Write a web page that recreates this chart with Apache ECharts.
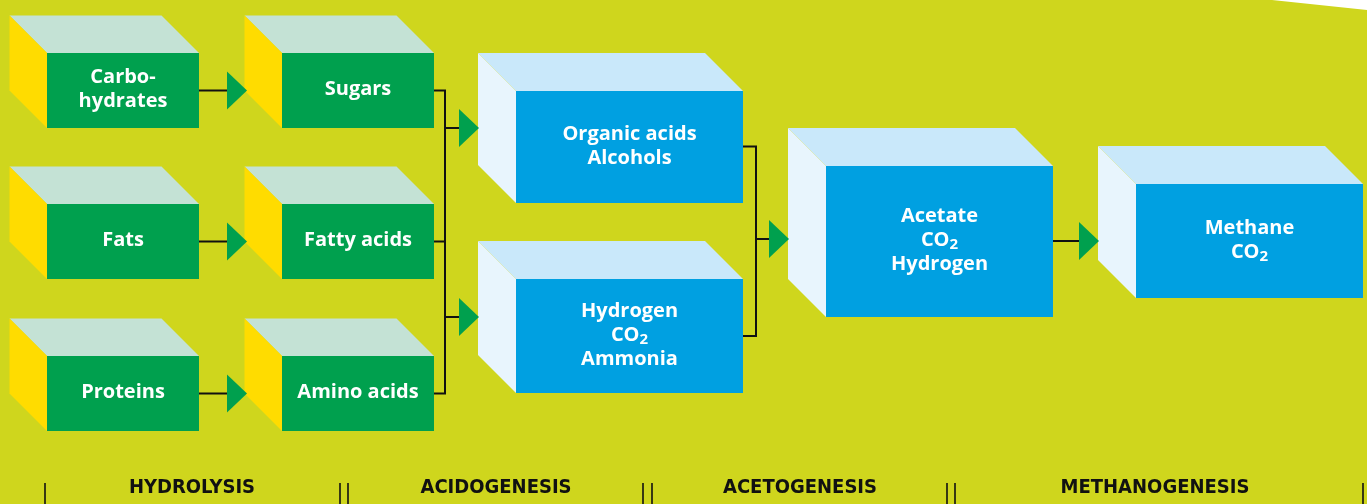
<!DOCTYPE html>
<html>
<head>
<meta charset="utf-8">
<script src="https://cdn.jsdelivr.net/npm/echarts@6/dist/echarts.min.js"></script>
<style>
html, body { margin: 0; padding: 0; background: #cfd61d; }
#chart { width: 1367px; height: 504px; }
</style>
</head>
<body>
<div id="chart"></div>
<script>
// what goes in and comes out of each step
const stageNames = ['HYDROLYSIS', 'ACIDOGENESIS', 'ACETOGENESIS', 'METHANOGENESIS'];
const substrates = ['Carbo-\nhydrates', 'Fats', 'Proteins'];
const monomers = ['Sugars', 'Fatty acids', 'Amino acids'];
const intermediates = ['Organic acids\nAlcohols', 'Hydrogen\nCO2\nAmmonia'];
const acetogenesisOut = ['Acetate\nCO2\nHydrogen'];
const methanogenesisOut = ['Methane\nCO2'];

// layout, in axis units (x 0..1367, y 0..504 from the top)
const greenCols = [47, 282];
const greenRows = [53, 204, 356];
const greenW = 152, greenH = 75, greenDepth = 37.5;
const blueFrames = [[516, 91, 227, 112], [516, 279, 227, 114], [826, 166, 227, 151], [1136, 184, 227, 114]];
const blueDepth = 38;
const wires = [
    [[199, 90.5], [227, 90.5]],
    [[199, 241.5], [227, 241.5]],
    [[199, 393.5], [227, 393.5]],
    [[434, 90.5], [445, 90.5], [445, 393.5], [434, 393.5]],
    [[434, 241.5], [445, 241.5]],
    [[445, 128], [459, 128]],
    [[445, 317], [459, 317]],
    [[743, 146.5], [756, 146.5], [756, 336], [743, 336]],
    [[756, 239], [769, 239]],
    [[1053, 241], [1079, 241]]
];
const arrows = [[227, 90.5], [227, 241.5], [227, 393.5], [459, 128], [459, 317], [769, 239], [1079, 241]];
const stageCenters = [192, 496, 800, 1155];
const stageTicks = [45, 340, 348, 643, 652, 947, 955, 1363];
const cornerCut = [[1272, 0], [1367, 10], [1367, 0]];

const boxes = [];
substrates.forEach((t, i) => boxes.push({ x: greenCols[0], y: greenRows[i], w: greenW, h: greenH, d: greenDepth, green: true, label: t }));
monomers.forEach((t, i) => boxes.push({ x: greenCols[1], y: greenRows[i], w: greenW, h: greenH, d: greenDepth, green: true, label: t }));
[...intermediates, ...acetogenesisOut, ...methanogenesisOut].forEach((t, i) => {
    const f = blueFrames[i];
    boxes.push({ x: f[0], y: f[1], w: f[2], h: f[3], d: blueDepth, green: false, label: t });
});

const boxFont = "'Open Sans', 'DejaVu Sans', sans-serif";
const stageFont = "'Liberation Sans Narrow', 'DejaVu Sans Condensed', sans-serif";

function pts(api, list) {
    return list.map(p => api.coord(p));
}

function renderBox(params, api) {
    const b = boxes[params.dataIndex];
    const top = pts(api, [[b.x - b.d, b.y - b.d], [b.x + b.w - b.d, b.y - b.d], [b.x + b.w, b.y], [b.x, b.y]]);
    const side = pts(api, [[b.x - b.d, b.y - b.d], [b.x, b.y], [b.x, b.y + b.h], [b.x - b.d, b.y + b.h - b.d]]);
    const a = api.coord([b.x, b.y]);
    const c = api.coord([b.x + b.w, b.y + b.h]);
    const text = b.label.replace('CO2', '{m|CO}{s|2}');
    return {
        type: 'group',
        children: [
            { type: 'polygon', shape: { points: top }, style: { fill: b.green ? '#c4e2d5' : '#c9e8fa' } },
            { type: 'polygon', shape: { points: side }, style: { fill: b.green ? '#ffdc00' : '#e8f5fd' } },
            { type: 'rect', shape: { x: a[0], y: a[1], width: c[0] - a[0], height: c[1] - a[1] }, style: { fill: b.green ? '#00a04e' : '#00a0e1' } },
            {
                type: 'text',
                x: (a[0] + c[0]) / 2,
                y: (a[1] + c[1]) / 2 - 1,
                style: {
                    text: text,
                    fill: '#fff',
                    fontFamily: boxFont,
                    fontWeight: 'bold',
                    fontSize: 20,
                    lineHeight: 24,
                    align: 'center',
                    verticalAlign: 'middle',
                    rich: {
                        m: { fontFamily: boxFont, fontWeight: 'bold', fontSize: 20, lineHeight: 24, fill: '#fff' },
                        s: { fontFamily: boxFont, fontWeight: 'bold', fontSize: 15, lineHeight: 12, verticalAlign: 'bottom', fill: '#fff' }
                    }
                }
            }
        ]
    };
}

function renderWire(params, api) {
    return {
        type: 'polyline',
        shape: { points: pts(api, wires[params.dataIndex]) },
        style: { stroke: '#111', lineWidth: 2, fill: null }
    };
}

function renderArrow(params, api) {
    const p = arrows[params.dataIndex];
    return {
        type: 'polygon',
        shape: { points: pts(api, [[p[0], p[1] - 19], [p[0] + 20, p[1]], [p[0], p[1] + 19]]) },
        style: { fill: '#00a04e' }
    };
}

function renderStage(params, api) {
    const p = api.coord([stageCenters[params.dataIndex], 488]);
    return {
        type: 'text',
        x: p[0],
        y: p[1],
        style: {
            text: stageNames[params.dataIndex],
            fill: '#111',
            fontFamily: stageFont,
            fontWeight: 'bold',
            fontSize: 20,
            align: 'center',
            verticalAlign: 'middle'
        }
    };
}

function renderTick(params, api) {
    const x = stageTicks[params.dataIndex];
    const a = api.coord([x, 483]);
    const b = api.coord([x, 504]);
    return {
        type: 'line',
        shape: { x1: a[0], y1: a[1], x2: b[0], y2: b[1] },
        style: { stroke: '#111', lineWidth: 1.6 }
    };
}

function renderCorner(params, api) {
    return {
        type: 'polygon',
        shape: { points: pts(api, cornerCut) },
        style: { fill: '#ffffff' }
    };
}

const chart = echarts.init(document.getElementById('chart'));
chart.setOption({
    backgroundColor: '#cfd61d',
    animation: false,
    grid: { left: 0, right: 0, top: 0, bottom: 0 },
    xAxis: { type: 'value', min: 0, max: 1367, show: false },
    yAxis: { type: 'value', min: 0, max: 504, inverse: true, show: false },
    series: [
        { type: 'custom', clip: false, silent: true, renderItem: renderCorner, data: [[1367, 0]] },
        { type: 'custom', clip: false, silent: true, renderItem: renderWire, data: wires.map(w => w[0]) },
        { type: 'custom', clip: false, silent: true, renderItem: renderBox, data: boxes.map(b => [b.x, b.y]) },
        { type: 'custom', clip: false, silent: true, renderItem: renderArrow, data: arrows },
        { type: 'custom', clip: false, silent: true, renderItem: renderTick, data: stageTicks.map(x => [x, 504]) },
        { type: 'custom', clip: false, silent: true, renderItem: renderStage, data: stageCenters.map(x => [x, 488]) }
    ]
});
</script>
</body>
</html>
